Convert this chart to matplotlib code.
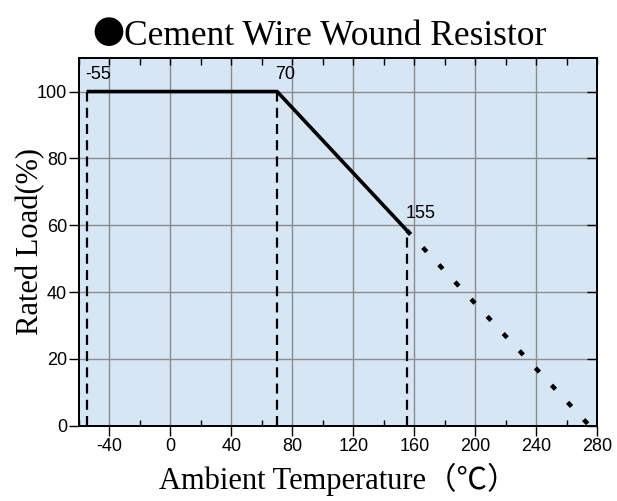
import matplotlib
matplotlib.use("Agg")
import matplotlib.pyplot as plt

# derating curve data
temps_solid = [-55, 70, 155]
load_solid = [100, 100, 58.5]
temps_dotted = [155, 275]
load_dotted = [58.5, 0]
mark_temps = [-55, 70, 155]
mark_loads = [100, 100, 58.5]
mark_labels = ["-55", "70", "155"]

x_ticks = [-40, 0, 40, 80, 120, 160, 200, 240, 280]
x_minor = [-60, -20, 20, 60, 100, 140, 180, 220, 260]
y_ticks = [0, 20, 40, 60, 80, 100]

plt.rcParams['font.family'] = ['Liberation Sans', 'DejaVu Sans']

fig = plt.figure(figsize=(6.17, 5.01), dpi=100)
ax = fig.add_axes([0.128, 0.150, 0.840, 0.734])
ax.set_facecolor("#d6e6f4")

ax.set_xlim(-60, 280)
ax.set_ylim(0, 110)

# grid lines
for x in x_ticks[:-1]:
    ax.axvline(x, color="#8c8c8c", lw=1.0, zorder=1)
for y in y_ticks[1:]:
    ax.axhline(y, color="#8c8c8c", lw=1.0, zorder=1)

# dashed verticals from the axis up to the curve
for t, l in zip(mark_temps, mark_loads):
    ax.plot([t, t], [0, l], color="black", lw=1.6, ls=(0, (4.5, 2.8)), zorder=3)

ax.plot(temps_solid, load_solid, color="black", lw=2.6, zorder=4, solid_capstyle="butt")
ax.plot(temps_dotted, load_dotted, color="black", lw=3.2, ls=(0, (1.3, 4.0)), zorder=4)

for t, l, s in zip(mark_temps, mark_loads, mark_labels):
    ax.text(t - 1, l + 2.5, s, fontsize=13, ha="left", va="bottom", zorder=5)

ax.set_xticks(x_ticks)
ax.set_xticklabels([str(v) for v in x_ticks])
ax.set_xticks(x_minor, minor=True)
ax.set_yticks(y_ticks)
ax.set_yticklabels([str(v) for v in y_ticks])
ax.tick_params(axis="both", which="major", direction="out", length=7, width=1,
               labelsize=13, pad=1.5)
ax.tick_params(axis="x", which="minor", direction="in", length=4, width=1)

# inward ticks on the top and right sides
top = ax.twiny()
top.set_xlim(ax.get_xlim())
top.set_xticks(x_ticks + x_minor)
top.tick_params(direction="in", length=5, width=1, labeltop=False, labelbottom=False)
right = ax.twinx()
right.set_ylim(ax.get_ylim())
right.set_yticks(y_ticks)
right.tick_params(direction="in", length=7, width=1, labelright=False, labelleft=False)

for a in (ax, top, right):
    for sp in a.spines.values():
        sp.set_linewidth(1.2)

label_font = ['Liberation Serif', 'Noto Sans CJK JP']
ax.set_xlabel("Ambient Temperature（℃）", fontsize=22, family=label_font, labelpad=6)
ax.set_ylabel("Rated Load(%)", fontsize=22, family=label_font, labelpad=-6)

# title: big bullet + serif text
title_x = 124 / 617
fig.text(title_x, 0.93, "●", fontsize=23, family=['Noto Sans CJK JP'],
         ha="right", va="center")
fig.text(title_x, 0.928, "Cement Wire Wound Resistor", fontsize=25.5,
         family=['Liberation Serif'], ha="left", va="center")

fig.savefig("out.png", dpi=100)
